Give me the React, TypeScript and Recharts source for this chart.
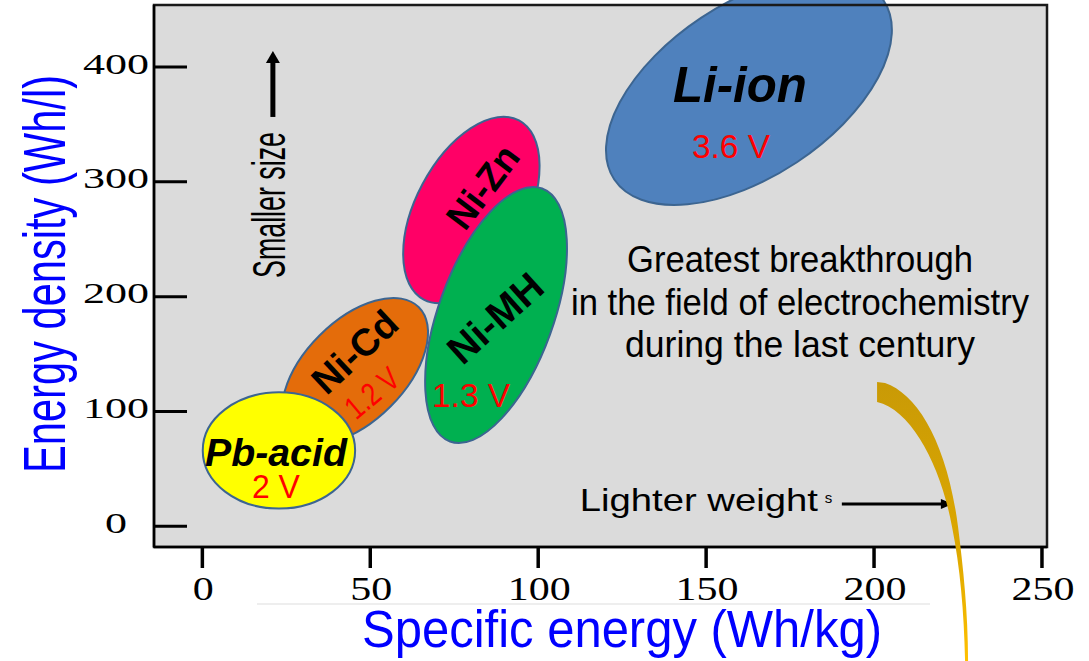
import React from 'react';
import { ScatterChart, Scatter, XAxis, YAxis, CartesianGrid, ReferenceArea, ReferenceDot } from 'recharts';

const W = 1089;
const H = 661;
const SANS = '"Liberation Sans", Arial, Helvetica, sans-serif';
const SERIF = '"Liberation Serif", "Times New Roman", Times, serif';

// battery chemistries, back to front
const batteries = ['Li-ion', 'Ni-Zn', 'Ni-MH', 'Ni-Cd', 'Pb-acid'];
const voltages = ['3.6 V', '', '1.3 V', '1.2 V', '2 V'];
// ranges (Wh/kg, Wh/l)
const specEnergyMin = [120.2, 59.7, 66.3, 24.0, 0.2];
const specEnergyMax = [205.3, 100.5, 108.6, 66.9, 45.4];
const energyDensMin = [279.8, 194.5, 72.6, 70.8, 15.1];
const energyDensMax = [480.1, 356.5, 295.5, 199.7, 117.0];

const xTicks = [0, 50, 100, 150, 200, 250];
const yTicks = [0, 100, 200, 300, 400];
const X_DOMAIN: [number, number] = [-14.4, 251.5];
const Y_DOMAIN: [number, number] = [-18, 454];

// annotation anchors (data units)
const smallerSizeAt = { x: 21.0, y: 356.5 };
const lighterWeightAt = { x: 112.4, y: 13.35 };
const breakthroughAt = { x: 177.95, y: 184.0 };
const swooshAt = { x: 200.9, y: 125.7 };
const breakthroughLines = ['Greatest breakthrough', 'in the field of electrochemistry', 'during  the last century'];

// looks
const fills = ['#4F81BD', '#FF0066', '#00B050', '#E46C0A', '#FFFF00'];
const tilts = [33.6, 62, 70, 45, 0];
const ratios = [0.536, 0.545, 0.426, 0.556, 0.763];
const nameStyle = [
  { dx: -9, dy: -5, rot: 0, size: 50, len: 134, italic: true },
  { dx: 11.5, dy: -23, rot: -53, size: 38, len: 94, italic: false },
  { dx: -1, dy: 3, rot: -42, size: 40, len: 113, italic: false },
  { dx: 0, dy: -19, rot: -43, size: 38, len: 102, italic: false },
  { dx: -3, dy: 2.5, rot: 0, size: 38, len: 142, italic: true },
];
const voltStyle = [
  { dx: -18, dy: 56, rot: 0, size: 34, len: 78 },
  null,
  { dx: -25, dy: 80, rot: 0, size: 34, len: 78 },
  { dx: 17, dy: 22, rot: -40, size: 32, len: 60 },
  { dx: -3, dy: 35.5, rot: 0, size: 34, len: 48 },
];

const labelPoints = batteries.map((name, i) => ({
  name,
  idx: i,
  volt: voltages[i],
  x: (specEnergyMin[i] + specEnergyMax[i]) / 2,
  y: (energyDensMin[i] + energyDensMax[i]) / 2,
}));

const ellipseShape = (i: number) => (p: any) => {
  const cx = p.x + p.width / 2;
  const cy = p.y + p.height / 2;
  const hw = Math.abs(p.width) / 2;
  const hh = Math.abs(p.height) / 2;
  const r = ratios[i];
  const a = Math.sqrt((hw * hw + hh * hh) / (1 + r * r));
  return (
    <ellipse
      cx={cx}
      cy={cy}
      rx={a}
      ry={a * r}
      transform={`rotate(${-tilts[i]} ${cx} ${cy})`}
      fill={fills[i]}
      stroke="#3C6591"
      strokeWidth={2}
    />
  );
};

const BatteryLabel = (p: any) => {
  const { cx, cy, payload } = p;
  const i = payload.idx;
  const n = nameStyle[i];
  const v = voltStyle[i];
  const nx = cx + n.dx;
  const ny = cy + n.dy;
  return (
    <g>
      <text x={nx} y={ny} textAnchor="middle" dominantBaseline="central" fontFamily={SANS}
        fontWeight="bold" fontStyle={n.italic ? 'italic' : 'normal'} fontSize={n.size}
        textLength={n.len} lengthAdjust="spacingAndGlyphs" fill="#000"
        transform={`rotate(${n.rot} ${nx} ${ny})`}>{payload.name}</text>
      {v && (
        <text x={cx + v.dx} y={cy + v.dy} textAnchor="middle" dominantBaseline="central" fontFamily={SANS}
          fontSize={v.size} textLength={v.len} lengthAdjust="spacingAndGlyphs" fill="#FF0000"
          transform={`rotate(${v.rot} ${cx + v.dx} ${cy + v.dy})`}>{payload.volt}</text>
      )}
    </g>
  );
};

const YTick = (p: any) => {
  const { x, y, payload } = p;
  const s = String(payload.value);
  return (
    <g>
      <line x1={x} x2={x + 33} y1={y} y2={y} stroke="#000" strokeWidth={3} />
      <text x={x - 38} y={y - 4} textAnchor="middle" dominantBaseline="central" fontFamily={SERIF}
        fontSize={30} textLength={s.length * 22} lengthAdjust="spacingAndGlyphs" fill="#000">{s}</text>
    </g>
  );
};

const XTick = (p: any) => {
  const { x, y, payload } = p;
  const s = String(payload.value);
  return (
    <g>
      <line x1={x} x2={x} y1={y} y2={y + 21} stroke="#000" strokeWidth={3.5} />
      <text x={x + 1} y={y + 53} textAnchor="middle" fontFamily={SERIF} fontSize={33}
        textLength={s.length * 21} lengthAdjust="spacingAndGlyphs" fill="#000">{s}</text>
    </g>
  );
};

const XTitle = (p: any) => {
  const vb = p.viewBox || { x: 154, y: 547, width: 893, height: 114 };
  const cx = vb.x + vb.width / 2 + 21.5;
  return (
    <g>
      <line x1={vb.x + 103} x2={vb.x + 776} y1={vb.y + 57} y2={vb.y + 57} stroke="#E8E8E8" strokeWidth={1.5} />
      <text x={cx} y={vb.y + 100} textAnchor="middle" fontFamily={SANS} fontSize={51}
        textLength={520} lengthAdjust="spacingAndGlyphs" fill="#0000FF">Specific energy (Wh/kg)</text>
    </g>
  );
};

const YTitle = (p: any) => {
  const vb = p.viewBox || { x: 0, y: 5, width: 154, height: 542 };
  const tx = vb.x + 65;
  const ty = vb.y + vb.height / 2 - 2;
  return (
    <text x={tx} y={ty} textAnchor="middle" fontFamily={SANS} fontSize={60}
      textLength={398} lengthAdjust="spacingAndGlyphs" fill="#0000FF"
      transform={`rotate(-90 ${tx} ${ty})`}>Energy density (Wh/l)</text>
  );
};

const SmallerSize = (p: any) => {
  const { cx, cy } = p;
  const tx = cx + 12;
  const ty = cy + 88;
  return (
    <g>
      <line x1={cx} x2={cx} y1={cy} y2={cy - 56} stroke="#000" strokeWidth={5} />
      <polygon points={`${cx - 7},${cy - 54} ${cx + 7},${cy - 54} ${cx},${cy - 66}`} fill="#000" />
      <text x={tx} y={ty} textAnchor="middle" fontFamily={SANS} fontSize={47}
        textLength={146} lengthAdjust="spacingAndGlyphs" fill="#000"
        transform={`rotate(-90 ${tx} ${ty})`}>Smaller size</text>
    </g>
  );
};

const LighterWeight = (p: any) => {
  const { cx, cy } = p;
  return (
    <g>
      <text x={cx} y={cy} fontFamily={SANS} fontSize={32} textLength={238}
        lengthAdjust="spacingAndGlyphs" fill="#000">Lighter weight</text>
      <text x={cx + 245} y={cy - 8} fontFamily={SANS} fontSize={15} fill="#000">s</text>
      <line x1={cx + 262} x2={cx + 364} y1={cy - 7} y2={cy - 7} stroke="#000" strokeWidth={3} />
      <polygon points={`${cx + 361},${cy - 12} ${cx + 361},${cy - 2} ${cx + 373},${cy - 7}`} fill="#000" />
    </g>
  );
};

const Breakthrough = (p: any) => {
  const { cx, cy } = p;
  const lens = [346, 458, 350];
  const dys = [-43, 0, 42];
  return (
    <g>
      {breakthroughLines.map((t, i) => (
        <text key={t} x={cx} y={cy + dys[i]} textAnchor="middle" fontFamily={SANS} fontSize={37}
          textLength={lens[i]} lengthAdjust="spacingAndGlyphs" fill="#000">{t}</text>
      ))}
    </g>
  );
};

const Swoosh = (p: any) => {
  const { cx, cy } = p;
  const q = (dx: number, dy: number) => `${cx + dx},${cy + dy}`;
  const d =
    `M${q(0, 0)} L${q(8, 1)} C${q(40, 12)} ${q(70, 60)} ${q(81, 145)} ` +
    `C${q(86, 185)} ${q(91, 230)} ${q(91, 279)} L${q(88, 279)} ` +
    `C${q(87, 230)} ${q(83, 185)} ${q(75, 145)} C${q(64, 85)} ${q(35, 28)} ${q(0, 20)} Z`;
  return (
    <g>
      <defs>
        <linearGradient id="swooshGrad" x1="0" y1="0" x2="0" y2="1">
          <stop offset="0" stopColor="#C99A06" />
          <stop offset="0.6" stopColor="#DDA800" />
          <stop offset="1" stopColor="#FFC000" />
        </linearGradient>
      </defs>
      <path d={d} fill="url(#swooshGrad)" />
    </g>
  );
};

export default function App() {
  return (
    <div style={{ position: 'absolute', left: 0, top: 0, background: '#fff' }}>
      <ScatterChart width={W} height={H} margin={{ top: 5, right: 42, bottom: 0, left: 0 }}>
        <CartesianGrid fill="#DBDBDB" horizontal={false} vertical={false} />
        <XAxis type="number" dataKey="x" domain={X_DOMAIN} ticks={xTicks} interval={0} allowDataOverflow
          height={114} tickSize={0} tickMargin={0} tickLine={false} tick={XTick}
          axisLine={{ stroke: '#000', strokeWidth: 2.5 }} label={{ content: XTitle }} />
        <YAxis type="number" dataKey="y" domain={Y_DOMAIN} ticks={yTicks} interval={0} allowDataOverflow
          width={154} tickSize={0} tickMargin={0} tickLine={false} tick={YTick}
          axisLine={{ stroke: '#000', strokeWidth: 2.5 }} label={{ content: YTitle }} />
        {batteries.map((b, i) => (
          <ReferenceArea key={b} x1={specEnergyMin[i]} x2={specEnergyMax[i]} y1={energyDensMin[i]}
            y2={energyDensMax[i]} ifOverflow="hidden" shape={ellipseShape(i)} />
        ))}
        <ReferenceArea x1={X_DOMAIN[0]} x2={X_DOMAIN[1]} y1={Y_DOMAIN[0]} y2={Y_DOMAIN[1]}
          ifOverflow="visible" fill="none" fillOpacity={0} stroke="#1a1a1a" strokeWidth={2.5} />
        <Scatter data={labelPoints} isAnimationActive={false} shape={BatteryLabel} />
        <ReferenceDot x={smallerSizeAt.x} y={smallerSizeAt.y} r={0} shape={SmallerSize} />
        <ReferenceDot x={lighterWeightAt.x} y={lighterWeightAt.y} r={0} shape={LighterWeight} />
        <ReferenceDot x={breakthroughAt.x} y={breakthroughAt.y} r={0} shape={Breakthrough} />
        <ReferenceDot x={swooshAt.x} y={swooshAt.y} r={0} shape={Swoosh} />
      </ScatterChart>
    </div>
  );
}
